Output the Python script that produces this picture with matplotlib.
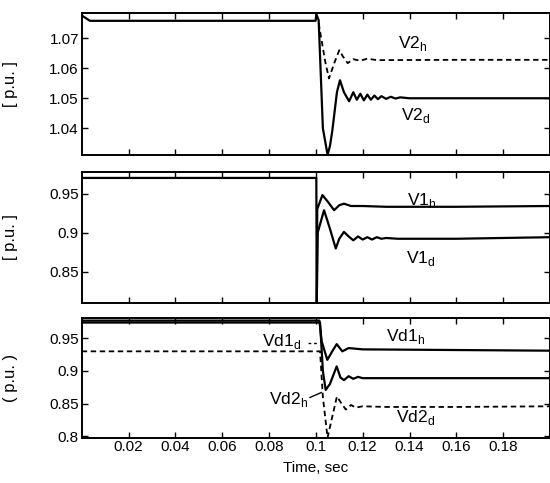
import matplotlib
matplotlib.use("Agg")
import matplotlib.pyplot as plt

plt.rcParams['font.family'] = ['Liberation Sans', 'DejaVu Sans']
plt.rcParams['mathtext.fontset'] = 'custom'
plt.rcParams['mathtext.rm'] = 'Liberation Sans'

# ---------------- data ----------------
# Top panel: V2
t_v2d = [0, 0.0035, 0.0999, 0.1002, 0.1012, 0.1030, 0.1050, 0.1060, 0.1070, 0.1090,
         0.1103, 0.1120, 0.1142, 0.1160, 0.1175, 0.1190, 0.1205, 0.1220, 0.1235, 0.1250,
         0.1265, 0.1280, 0.1300, 0.1320, 0.1340, 0.1360, 0.1400, 0.2]
v2d = [1.0776, 1.0758, 1.0758, 1.0780, 1.0760, 1.0400, 1.0312, 1.0340, 1.0390, 1.0520,
       1.0560, 1.0520, 1.0490, 1.0520, 1.0495, 1.0515, 1.0493, 1.0512, 1.0495, 1.0509,
       1.0497, 1.0507, 1.0498, 1.0505, 1.0499, 1.0503, 1.0500, 1.0500]
t_v2h = [0.1012, 0.1040, 0.1056, 0.1080, 0.1100, 0.1115, 0.1136, 0.1160, 0.1190,
         0.1220, 0.1260, 0.1600, 0.2]
v2h = [1.0750, 1.0622, 1.0566, 1.0620, 1.0660, 1.0640, 1.0617, 1.0630, 1.0625,
       1.0632, 1.0627, 1.0628, 1.0628]

# Middle panel: V1
t_v1h = [0, 0.1002, 0.1004, 0.1006, 0.1028, 0.1050, 0.1078, 0.1100, 0.1120, 0.1150,
         0.1200, 0.1300, 0.1600, 0.2]
v1h = [0.970, 0.970, 0.811, 0.930, 0.948, 0.940, 0.9286, 0.935, 0.937, 0.934,
       0.934, 0.933, 0.933, 0.934]
t_v1d = [0.1004, 0.1008, 0.1035, 0.1060, 0.1085, 0.1100, 0.1120, 0.1140, 0.1160,
         0.1180, 0.1200, 0.1220, 0.1240, 0.1260, 0.1280, 0.1300, 0.1350, 0.1600, 0.2]
v1d = [0.811, 0.900, 0.9286, 0.905, 0.8795, 0.892, 0.9008, 0.895, 0.890,
       0.895, 0.891, 0.894, 0.891, 0.894, 0.892, 0.893, 0.892, 0.892, 0.894]

# Bottom panel: Vd1, Vd2
t_vd1h = [0, 0.1015, 0.1025, 0.1049, 0.1070, 0.1089, 0.1113, 0.1140, 0.1200, 0.1600, 0.2]
vd1h = [0.977, 0.977, 0.945, 0.917, 0.930, 0.941, 0.930, 0.935, 0.933, 0.932, 0.931]
t_vd1d = [0, 0.1018, 0.1030, 0.1042, 0.1060, 0.1089, 0.1105, 0.1120, 0.1140, 0.1160,
          0.1180, 0.1200, 0.1250, 0.1600, 0.2]
vd1d = [0.974, 0.974, 0.900, 0.871, 0.880, 0.907, 0.890, 0.886, 0.892, 0.888,
        0.891, 0.889, 0.889, 0.889, 0.889]
t_vd2d = [0, 0.1018, 0.1030, 0.1050, 0.1070, 0.1090, 0.1110, 0.1128, 0.1150, 0.1170,
          0.1200, 0.1300, 0.1600, 0.2]
vd2d = [0.930, 0.930, 0.860, 0.798, 0.830, 0.861, 0.850, 0.841, 0.848, 0.844,
        0.846, 0.845, 0.845, 0.846]

x_ticks = [0.02, 0.04, 0.06, 0.08, 0.1, 0.12, 0.14, 0.16, 0.18]
x_ticklabels = ['0.02', '0.04', '0.06', '0.08', '0.1', '0.12', '0.14', '0.16', '0.18']
y_top = [1.04, 1.05, 1.06, 1.07]
y_top_lab = ['1.04', '1.05', '1.06', '1.07']
y_mid = [0.85, 0.9, 0.95]
y_mid_lab = ['0.85', '0.9', '0.95']
y_bot = [0.8, 0.85, 0.9, 0.95]
y_bot_lab = ['0.8', '0.85', '0.9', '0.95']

# ---------------- figure ----------------
W, H = 550, 483
fig = plt.figure(figsize=(W / 100, H / 100), dpi=100)
left = 81.7 / W
right = 1.0

def mk(top_px, bot_px):
    return fig.add_axes([left, 1 - bot_px / H, right - left, (bot_px - top_px) / H])

ax1 = mk(13.3, 155.0)
ax2 = mk(171.7, 302.7)
ax3 = mk(318.3, 437.7)

lw = 1.6
k = 'black'
ax1.plot(t_v2d, v2d, color=k, lw=lw)
ax1.plot(t_v2h, v2h, color=k, lw=1.3, ls=(0, (3, 2)))
ax1.set_ylim(1.0311, 1.0783)
ax1.set_yticks(y_top)
ax1.set_yticklabels(y_top_lab)

ax2.plot(t_v1h, v1h, color=k, lw=lw)
ax2.plot(t_v1d, v1d, color=k, lw=lw)
ax2.set_ylim(0.810, 0.978)
ax2.set_yticks(y_mid)
ax2.set_yticklabels(y_mid_lab)

ax3.plot(t_vd1h, vd1h, color=k, lw=lw)
ax3.plot(t_vd1d, vd1d, color=k, lw=lw)
ax3.plot(t_vd2d, vd2d, color=k, lw=1.3, ls=(0, (3, 2)))
ax3.set_ylim(0.798, 0.9805)
ax3.set_yticks(y_bot)
ax3.set_yticklabels(y_bot_lab)

for ax in (ax1, ax2, ax3):
    ax.set_xlim(0, 0.2)
    ax.set_xticks(x_ticks)
    ax.tick_params(direction='in', top=True, right=True, length=4, width=1,
                   labelsize=11, pad=2)
    for s in ax.spines.values():
        s.set_linewidth(1.4)
for ax in (ax1, ax2):
    ax.set_xticklabels([])
ax3.set_xticklabels(x_ticklabels)
ax3.set_xlabel('Time, sec', fontsize=11, labelpad=5)

ylabs = ['[ p.u. ]', '[ p.u. ]', '( p.u. )']
for ax, lab in zip((ax1, ax2, ax3), ylabs):
    ax.set_ylabel(lab, fontsize=12)
    ax.yaxis.set_label_coords(-0.135, 0.5)

fs = 12.5
ax1.text(0.1415, 1.0684, r'V2$_\mathregular{h}$', fontsize=fs, ha='center', va='center')
ax1.text(0.1425, 1.0443, r'V2$_\mathregular{d}$', fontsize=fs, ha='center', va='center')
ax2.text(0.1450, 0.9414, r'V1$_\mathregular{h}$', fontsize=fs, ha='center', va='center')
ax2.text(0.1450, 0.8667, r'V1$_\mathregular{d}$', fontsize=fs, ha='center', va='center')
ax3.text(0.1385, 0.953, r'Vd1$_\mathregular{h}$', fontsize=fs, ha='center', va='center')
ax3.text(0.1427, 0.829, r'Vd2$_\mathregular{d}$', fontsize=fs, ha='center', va='center')
ax3.text(0.0853, 0.945, r'Vd1$_\mathregular{d}$', fontsize=fs, ha='center', va='center')
ax3.plot([0.0966, 0.1012], [0.943, 0.943], color=k, lw=1, ls=(0, (2, 2)))
ax3.text(0.0885, 0.857, r'Vd2$_\mathregular{h}$', fontsize=fs, ha='center', va='center')
ax3.plot([0.0975, 0.1023], [0.8595, 0.867], color=k, lw=1)

fig.savefig('out.png', dpi=100)
